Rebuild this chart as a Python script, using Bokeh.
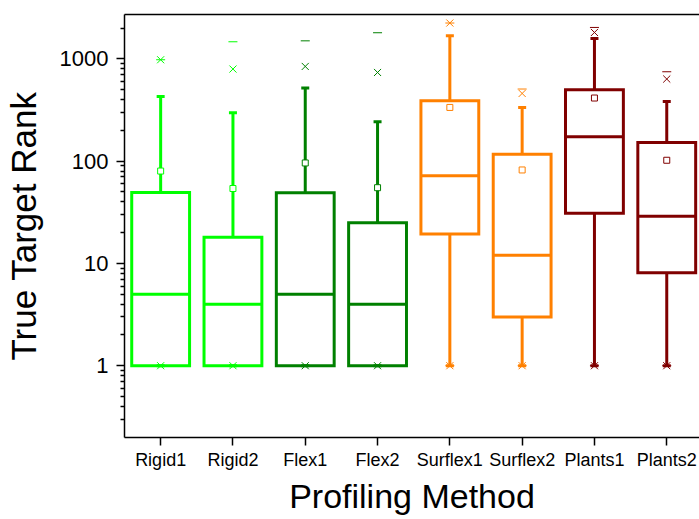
from bokeh.plotting import figure
from bokeh.models import ColumnDataSource, FixedTicker, Range1d, LinearAxis, PrintfTickFormatter
from bokeh.embed import file_html
from bokeh.resources import INLINE

categories = ["Rigid1", "Rigid2", "Flex1", "Flex2", "Surflex1", "Surflex2", "Plants1", "Plants2"]
colors = ["#00FF00", "#00FF00", "#008000", "#008000", "#FF8000", "#FF8000", "#800000", "#800000"]
q1 = [1, 1, 1, 1, 19.4, 3.0, 31, 8.1]
median = [5, 4, 5, 4, 72, 12, 173, 29]
q3 = [49.5, 18, 49, 25, 389, 117, 499, 152]
mean = [80, 54, 96, 55, 335, 82, 414, 102]
whisker_hi = [429, 297, 518, 243, 1683, 335, 1585, 383]
whisker_lo = [1, 1, 1, 1, 1, 1, 1, 1]
p99 = [980, 795, 843, 736, 2240, 459, 1811, 635]
p1 = [1, 1, 1, 1, 1, 1, 1, 1]
vmax = [980, 1469, 1500, 1800, 2240, 507, 2028, 748]
vmin = [1, 1, 1, 1, 1, 1, 1, 1]
y_major = [1, 10, 100, 1000]
y_minor = [0.3, 0.4, 0.5, 0.6, 0.7, 0.8, 0.9,
           2, 3, 4, 5, 6, 7, 8, 9,
           20, 30, 40, 50, 60, 70, 80, 90,
           200, 300, 400, 500, 600, 700, 800, 900, 2000]

pos = list(range(1, len(categories) + 1))
half = 0.4
src = ColumnDataSource(dict(
    x=pos, left=[p - half for p in pos], right=[p + half for p in pos],
    q1=q1, med=median, q3=q3, mean=mean, whi=whisker_hi, wlo=whisker_lo,
    p99=p99, p1=p1, vmax=vmax, vmin=vmin, color=colors,
))

W, H = 699, 519
BL, BT, BB = 124, 14, 82
fw = W - BL
px_per_unit = 72.3
p = figure(width=W, height=H, y_axis_type="log", output_backend="svg", toolbar_location=None,
           x_range=Range1d(0.5, 0.5 + fw / px_per_unit), y_range=Range1d(0.1987, 2714),
           min_border_left=BL, min_border_top=BT, min_border_bottom=BB, min_border_right=0)
p.outline_line_color = None
p.grid.grid_line_color = None
p.background_fill_color = "white"
p.border_fill_color = "white"

# boxes
p.quad(left="left", right="right", bottom="q1", top="q3", source=src,
       fill_color=None, line_color="color", line_width=3, line_join="miter")
p.segment(x0="left", x1="right", y0="med", y1="med", source=src, line_color="color", line_width=3)
# whiskers
p.segment(x0="x", x1="x", y0="q3", y1="whi", source=src, line_color="color", line_width=3)
p.segment(x0="x", x1="x", y0="q1", y1="wlo", source=src, line_color="color", line_width=3)
p.scatter(x="x", y="whi", source=src, marker="dash", size=8, line_color="color", line_width=3)
p.scatter(x="x", y="wlo", source=src, marker="dash", size=8, line_color="color", line_width=3)
# percentiles
p.scatter(x="x", y="p99", source=src, marker="x", size=10, line_color="color", line_width=1)
p.scatter(x="x", y="p1", source=src, marker="x", size=10, line_color="color", line_width=1)
# min/max
p.scatter(x="x", y="vmax", source=src, marker="dash", size=9, line_color="color", line_width=1)
p.scatter(x="x", y="vmin", source=src, marker="dash", size=9, line_color="color", line_width=1)
# mean
p.scatter(x="x", y="mean", source=src, marker="square", size=6, line_color="color",
          fill_color="white", line_width=1)

font = "Liberation Sans"
xa = p.xaxis[0]
xa.ticker = FixedTicker(ticks=pos, minor_ticks=[])
xa.major_label_overrides = {p_: c for p_, c in zip(pos, categories)}
xa.axis_label = "Profiling Method"
ya = p.yaxis[0]
ya.ticker = FixedTicker(ticks=y_major, minor_ticks=y_minor)
ya.formatter = PrintfTickFormatter(format="%d")
ya.axis_label = "True Target Rank"

for ax in (xa, ya):
    ax.axis_line_width = 1.5
    ax.axis_line_color = "black"
    ax.major_tick_line_color = "black"
    ax.major_tick_line_width = 1.5
    ax.minor_tick_line_color = "black"
    ax.minor_tick_line_width = 1.5
    ax.major_tick_in = 0
    ax.major_tick_out = 8
    ax.minor_tick_in = 0
    ax.minor_tick_out = 4
    ax.axis_label_text_font = font
    ax.axis_label_text_font_style = "normal"
    ax.axis_label_text_color = "black"
    ax.major_label_text_font = font
    ax.major_label_text_color = "black"

xa.axis_label_text_font_size = "34px"
ya.axis_label_text_font_size = "35px"
xa.major_label_text_font_size = "18px"
ya.major_label_text_font_size = "22px"
xa.major_label_standoff = 4
ya.major_label_standoff = 8
xa.axis_label_standoff = 4
ya.axis_label_standoff = 14

top = LinearAxis(ticker=FixedTicker(ticks=[]), axis_line_width=1.5, axis_line_color="black",
                 major_tick_line_color=None, minor_tick_line_color=None,
                 major_label_text_font_size="0px")
p.add_layout(top, "above")

open("out.html", "w").write(file_html(p, INLINE))
